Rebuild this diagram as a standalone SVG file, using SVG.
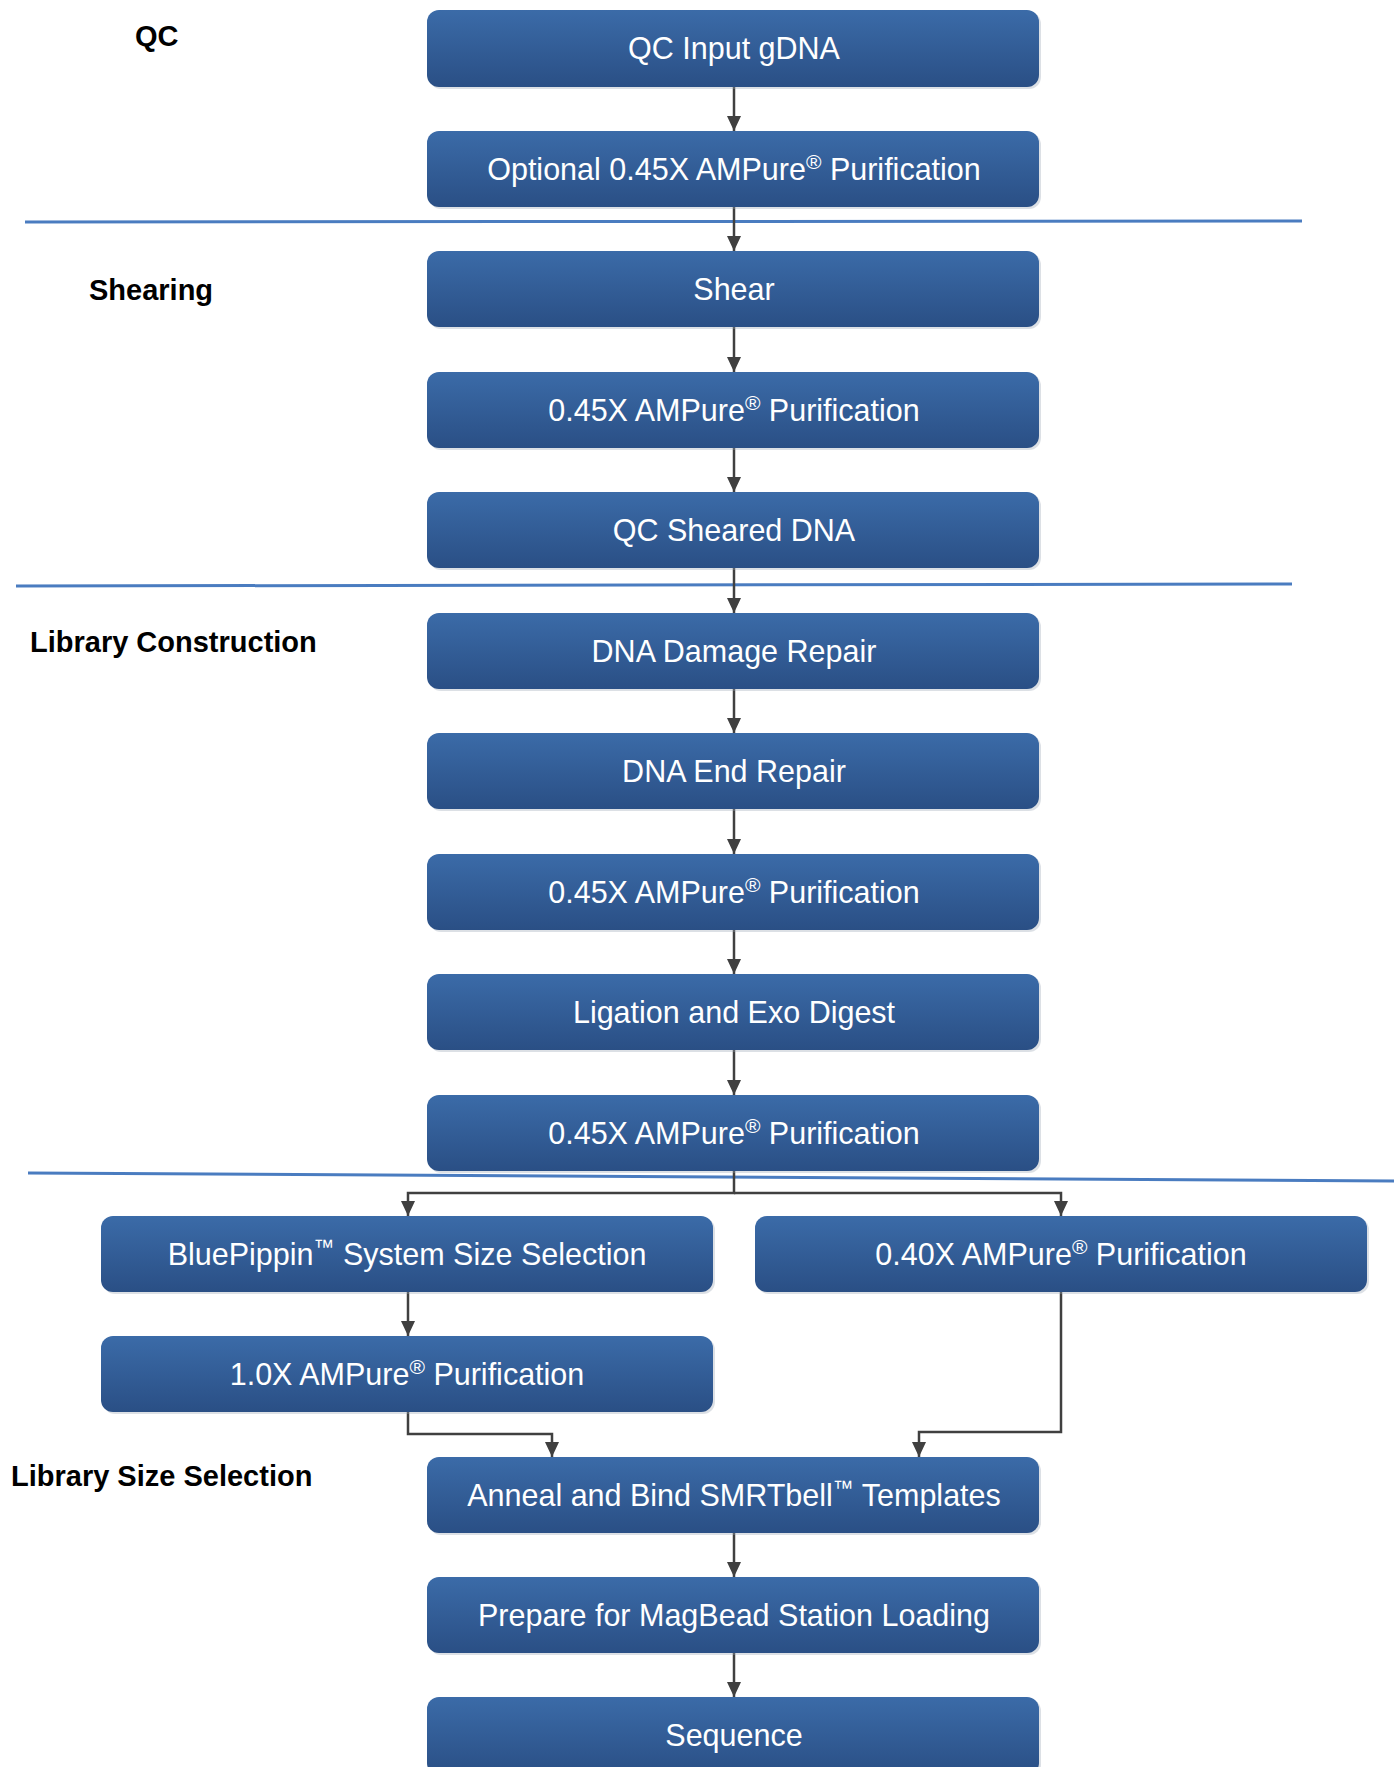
<svg xmlns="http://www.w3.org/2000/svg" width="1397" height="1767" viewBox="0 0 1397 1767">
<defs>
<linearGradient id="boxg" x1="0" y1="0" x2="0" y2="1">
<stop offset="0" stop-color="#3b6ba8"/>
<stop offset="1" stop-color="#2a4f85"/>
</linearGradient>
<marker id="arr" markerUnits="userSpaceOnUse" markerWidth="16" markerHeight="16" viewBox="0 0 16 14" refX="15" refY="7" orient="auto">
<path d="M0,0 L15,7 L0,14 z" fill="#404040"/>
</marker>
</defs>
<style>
.box{fill:url(#boxg);}
.shadow{fill:#9aa6b5;opacity:0.35;}
.t{font-family:"Liberation Sans",Arial,sans-serif;font-size:30.5px;fill:#ffffff;text-anchor:middle;}
.sup{font-size:21px;}
.sec{font-family:"Liberation Sans",Arial,sans-serif;font-size:29px;font-weight:bold;fill:#000000;}
.div{stroke:#4a7cc0;stroke-width:3;fill:none;}
.con{stroke:#404040;stroke-width:2.5;fill:none;}
.con.a{marker-end:url(#arr);}
</style>
<rect width="1397" height="1767" fill="#ffffff"/>

<g id="section-labels">
<text class="sec" x="135" y="46">QC</text>
<text class="sec" x="89" y="300">Shearing</text>
<text class="sec" x="30" y="652">Library Construction</text>
<text class="sec" x="11" y="1486">Library Size Selection</text>
</g>

<g id="dividers">
<line class="div" x1="25" y1="222" x2="1302" y2="221"/>
<line class="div" x1="16" y1="586" x2="1292" y2="584"/>
<line class="div" x1="28" y1="1173" x2="1394" y2="1181"/>
</g>

<g id="connectors">
<line class="con a" x1="734" y1="87" x2="734" y2="131"/>
<line class="con a" x1="734" y1="207" x2="734" y2="251"/>
<line class="con a" x1="734" y1="327" x2="734" y2="372"/>
<line class="con a" x1="734" y1="448" x2="734" y2="492"/>
<line class="con a" x1="734" y1="568" x2="734" y2="613"/>
<line class="con a" x1="734" y1="689" x2="734" y2="733"/>
<line class="con a" x1="734" y1="809" x2="734" y2="854"/>
<line class="con a" x1="734" y1="930" x2="734" y2="974"/>
<line class="con a" x1="734" y1="1050" x2="734" y2="1095"/>
<path class="con a" d="M734,1171 V1193 H408 V1216"/>
<path class="con a" d="M734,1193 H1061 V1216"/>
<line class="con a" x1="408" y1="1292" x2="408" y2="1336"/>
<path class="con a" d="M408,1412 V1434 H552 V1457"/>
<path class="con a" d="M1061,1292 V1432 H919 V1457"/>
<line class="con a" x1="734" y1="1533" x2="734" y2="1577"/>
<line class="con a" x1="734" y1="1653" x2="734" y2="1697"/>
</g>

<g id="n1"><rect class="shadow" x="429" y="12" width="612" height="77" rx="12"/><rect class="box" x="427" y="10" width="612" height="77" rx="12"/><text class="t" x="734" y="59">QC Input gDNA</text></g>
<g id="n2"><rect class="shadow" x="429" y="133" width="612" height="76" rx="12"/><rect class="box" x="427" y="131" width="612" height="76" rx="12"/><text class="t" x="734" y="180">Optional 0.45X AMPure<tspan class="sup" dy="-11">®</tspan><tspan dy="11"> Purification</tspan></text></g>
<g id="n3"><rect class="shadow" x="429" y="253" width="612" height="76" rx="12"/><rect class="box" x="427" y="251" width="612" height="76" rx="12"/><text class="t" x="734" y="300">Shear</text></g>
<g id="n4"><rect class="shadow" x="429" y="374" width="612" height="76" rx="12"/><rect class="box" x="427" y="372" width="612" height="76" rx="12"/><text class="t" x="734" y="421">0.45X AMPure<tspan class="sup" dy="-11">®</tspan><tspan dy="11"> Purification</tspan></text></g>
<g id="n5"><rect class="shadow" x="429" y="494" width="612" height="76" rx="12"/><rect class="box" x="427" y="492" width="612" height="76" rx="12"/><text class="t" x="734" y="541">QC Sheared DNA</text></g>
<g id="n6"><rect class="shadow" x="429" y="615" width="612" height="76" rx="12"/><rect class="box" x="427" y="613" width="612" height="76" rx="12"/><text class="t" x="734" y="662">DNA Damage Repair</text></g>
<g id="n7"><rect class="shadow" x="429" y="735" width="612" height="76" rx="12"/><rect class="box" x="427" y="733" width="612" height="76" rx="12"/><text class="t" x="734" y="782">DNA End Repair</text></g>
<g id="n8"><rect class="shadow" x="429" y="856" width="612" height="76" rx="12"/><rect class="box" x="427" y="854" width="612" height="76" rx="12"/><text class="t" x="734" y="903">0.45X AMPure<tspan class="sup" dy="-11">®</tspan><tspan dy="11"> Purification</tspan></text></g>
<g id="n9"><rect class="shadow" x="429" y="976" width="612" height="76" rx="12"/><rect class="box" x="427" y="974" width="612" height="76" rx="12"/><text class="t" x="734" y="1023">Ligation and Exo Digest</text></g>
<g id="n10"><rect class="shadow" x="429" y="1097" width="612" height="76" rx="12"/><rect class="box" x="427" y="1095" width="612" height="76" rx="12"/><text class="t" x="734" y="1144">0.45X AMPure<tspan class="sup" dy="-11">®</tspan><tspan dy="11"> Purification</tspan></text></g>
<g id="n11"><rect class="shadow" x="103" y="1218" width="612" height="76" rx="12"/><rect class="box" x="101" y="1216" width="612" height="76" rx="12"/><text class="t" x="407" y="1265">BluePippin<tspan class="sup" dy="-11">™</tspan><tspan dy="11"> System Size Selection</tspan></text></g>
<g id="n12"><rect class="shadow" x="757" y="1218" width="612" height="76" rx="12"/><rect class="box" x="755" y="1216" width="612" height="76" rx="12"/><text class="t" x="1061" y="1265">0.40X AMPure<tspan class="sup" dy="-11">®</tspan><tspan dy="11"> Purification</tspan></text></g>
<g id="n13"><rect class="shadow" x="103" y="1338" width="612" height="76" rx="12"/><rect class="box" x="101" y="1336" width="612" height="76" rx="12"/><text class="t" x="407" y="1385">1.0X AMPure<tspan class="sup" dy="-11">®</tspan><tspan dy="11"> Purification</tspan></text></g>
<g id="n14"><rect class="shadow" x="429" y="1459" width="612" height="76" rx="12"/><rect class="box" x="427" y="1457" width="612" height="76" rx="12"/><text class="t" x="734" y="1506">Anneal and Bind SMRTbell<tspan class="sup" dy="-11">™</tspan><tspan dy="11"> Templates</tspan></text></g>
<g id="n15"><rect class="shadow" x="429" y="1579" width="612" height="76" rx="12"/><rect class="box" x="427" y="1577" width="612" height="76" rx="12"/><text class="t" x="734" y="1626">Prepare for MagBead Station Loading</text></g>
<g id="n16"><rect class="shadow" x="429" y="1699" width="612" height="78" rx="12"/><rect class="box" x="427" y="1697" width="612" height="78" rx="12"/><text class="t" x="734" y="1746">Sequence</text></g>
</svg>
